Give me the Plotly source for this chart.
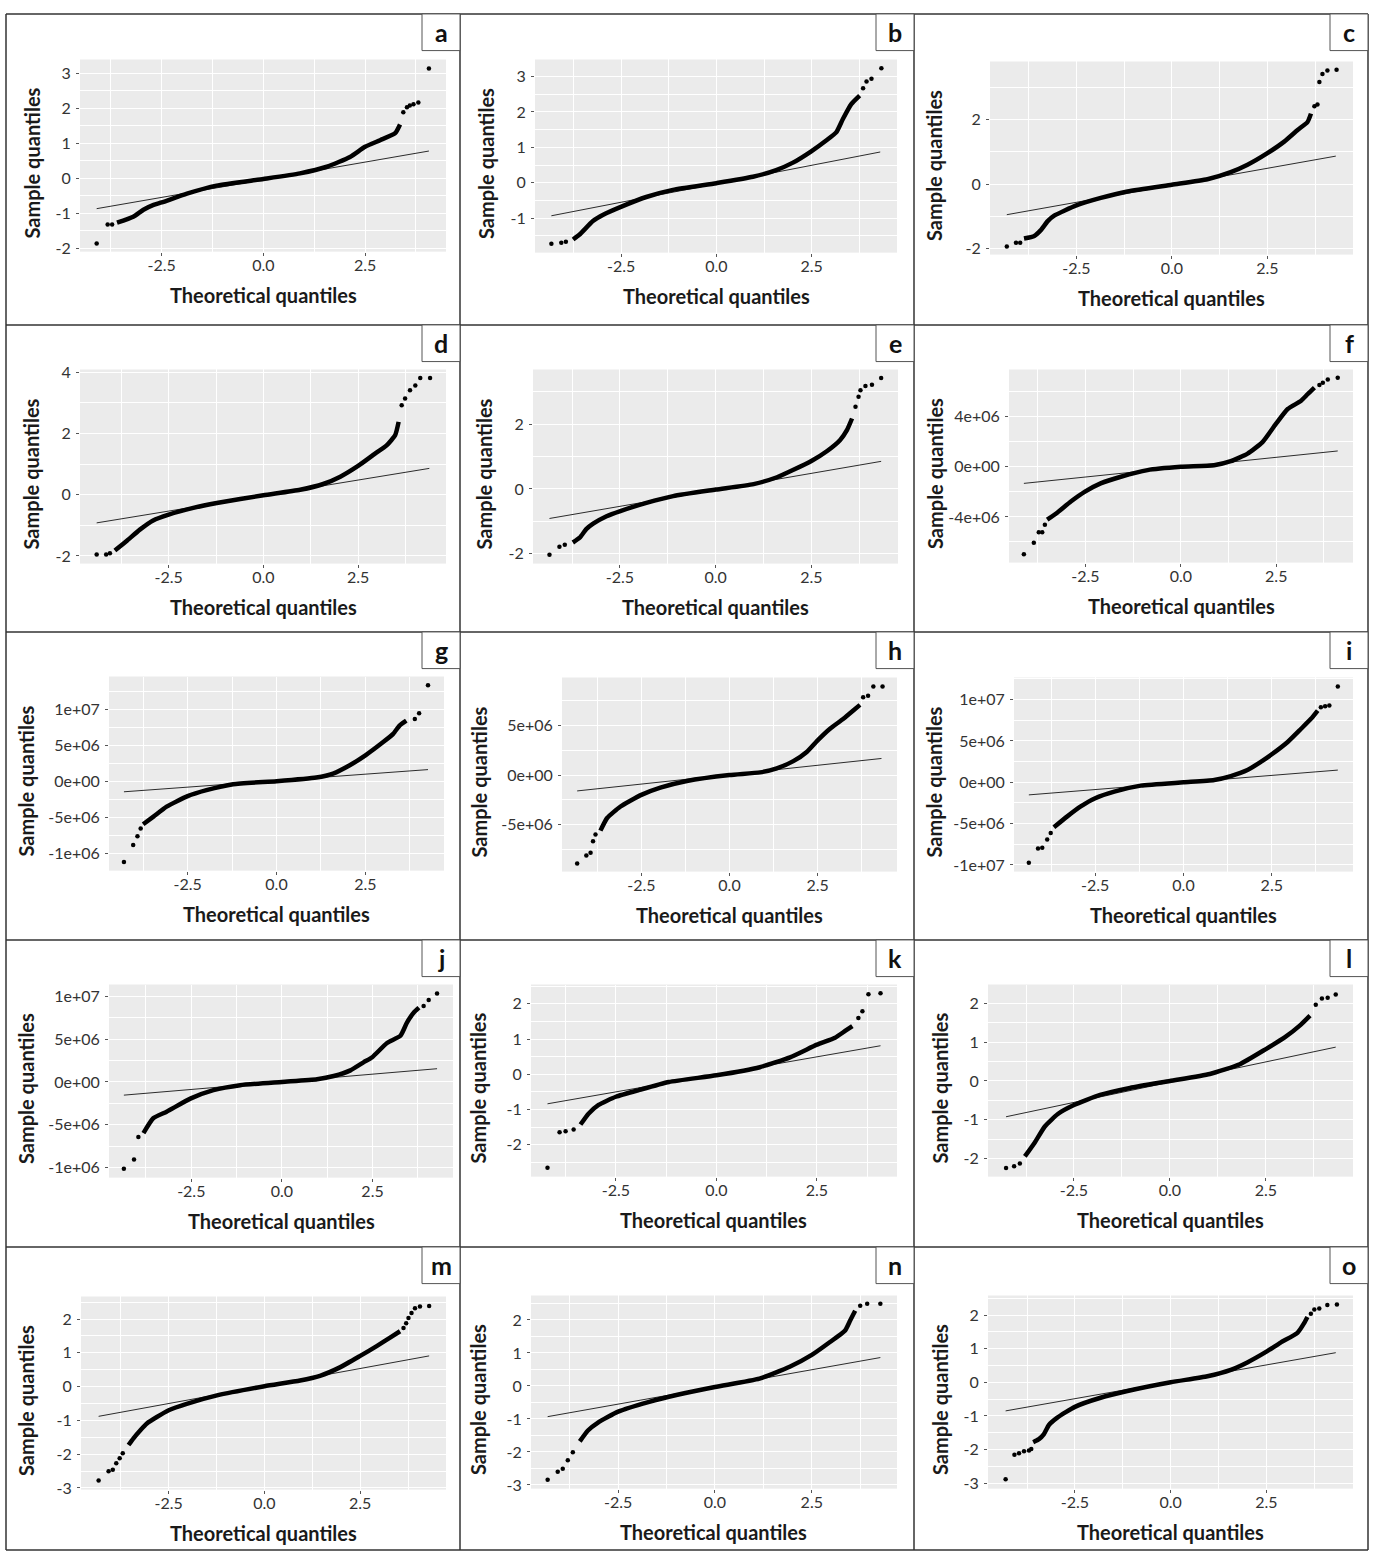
import plotly.graph_objects as go

# ---------------- data ----------------
letters = list("abcdefghijklmno")

a_body_x = [-3.60, -3.20, -2.95, -2.70, -2.50, -1.88, -1.15, 0.00, 0.90, 1.56, 2.13, 2.50, 2.87, 3.24, 3.36]
a_body_y = [-1.27, -1.10, -0.90, -0.76, -0.69, -0.44, -0.21, -0.02, 0.14, 0.33, 0.61, 0.90, 1.09, 1.29, 1.54]
a_tail_x = [-4.10, -3.83, -3.72, 3.44, 3.53, 3.60, 3.69, 3.81, 4.07]
a_tail_y = [-1.87, -1.32, -1.32, 1.89, 2.03, 2.08, 2.12, 2.17, 3.14]
a_line_x = [-4.10, 4.07]
a_line_y = [-0.87, 0.78]

b_body_x = [-3.76, -3.59, -3.24, -2.97, -2.49, -1.84, -1.14, 0.00, 0.96, 1.57, 2.01, 2.49, 2.89, 3.15, 3.32, 3.54, 3.76]
b_body_y = [-1.60, -1.46, -1.08, -0.90, -0.67, -0.40, -0.20, -0.01, 0.17, 0.36, 0.57, 0.89, 1.20, 1.43, 1.80, 2.22, 2.46]
b_tail_x = [-4.33, -4.07, -3.95, 3.85, 3.94, 4.07, 4.33]
b_tail_y = [-1.72, -1.69, -1.66, 2.67, 2.86, 2.94, 3.23]
b_line_x = [-4.33, 4.30]
b_line_y = [-0.93, 0.87]

c_body_x = [-3.87, -3.60, -3.43, -3.25, -3.08, -2.50, -1.86, -1.16, 0.00, 0.93, 1.54, 1.98, 2.50, 2.94, 3.29, 3.55, 3.64]
c_body_y = [-1.69, -1.61, -1.43, -1.15, -0.98, -0.66, -0.43, -0.23, -0.02, 0.15, 0.37, 0.60, 0.96, 1.32, 1.68, 1.93, 2.19]
c_tail_x = [-4.32, -4.08, -3.97, 3.73, 3.81, 3.86, 3.94, 4.07, 4.31]
c_tail_y = [-1.94, -1.82, -1.82, 2.42, 2.47, 3.17, 3.42, 3.53, 3.55]
c_line_x = [-4.32, 4.29]
c_line_y = [-0.95, 0.87]

d_body_x = [-3.92, -3.61, -3.26, -2.91, -2.50, -1.85, -1.23, 0.00, 0.97, 1.58, 2.03, 2.51, 2.90, 3.26, 3.48, 3.57]
d_body_y = [-1.82, -1.51, -1.14, -0.84, -0.65, -0.43, -0.27, -0.02, 0.16, 0.35, 0.59, 0.95, 1.30, 1.62, 1.95, 2.38]
d_tail_x = [-4.40, -4.15, -4.05, 3.65, 3.74, 3.87, 4.01, 4.14, 4.40]
d_tail_y = [-1.95, -1.95, -1.91, 2.92, 3.14, 3.41, 3.57, 3.81, 3.81]
d_line_x = [-4.40, 4.38]
d_line_y = [-0.92, 0.86]

e_body_x = [-3.73, -3.55, -3.38, -3.20, -2.85, -2.49, -1.81, -1.11, 0.00, 0.99, 1.60, 2.03, 2.51, 2.91, 3.25, 3.43, 3.56]
e_body_y = [-1.65, -1.50, -1.24, -1.07, -0.84, -0.68, -0.43, -0.22, -0.02, 0.15, 0.36, 0.59, 0.87, 1.17, 1.51, 1.82, 2.17]
e_tail_x = [-4.34, -4.08, -3.94, 3.65, 3.73, 3.78, 3.91, 4.08, 4.32]
e_tail_y = [-2.03, -1.78, -1.72, 2.53, 2.84, 3.04, 3.17, 3.21, 3.42]
e_line_x = [-4.34, 4.32]
e_line_y = [-0.91, 0.85]

f_body_x = [-3.50, -3.23, -2.88, -2.51, -2.10, -1.57, -0.87, 0.00, 0.87, 1.31, 1.75, 2.14, 2.49, 2.80, 3.15, 3.32, 3.50]
f_body_y = [-4.22e6, -3.64e6, -2.77e6, -1.98e6, -1.32e6, -0.79e6, -0.26e6, 0.0, 0.13e6, 0.45e6, 1.06e6,
            1.98e6, 3.43e6, 4.62e6, 5.28e6, 5.80e6, 6.33e6]
f_tail_x = [-4.11, -3.85, -3.72, -3.63, -3.56, 3.63, 3.72, 3.85, 4.11]
f_tail_y = [-6.99e6, -6.07e6, -5.22e6, -5.22e6, -4.62e6, 6.54e6, 6.73e6, 6.99e6, 7.12e6]
f_line_x = [-4.11, 4.11]
f_line_y = [-1.32e6, 1.27e6]

g_body_x = [-3.75, -3.46, -3.09, -2.50, -1.97, -1.22, 0.00, 1.12, 1.59, 2.06, 2.50, 3.00, 3.28, 3.46, 3.65]
g_body_y = [-5.98e6, -4.92e6, -3.54e6, -2.07e6, -1.24e6, -0.41e6, 0.0, 0.51e6, 1.06e6, 2.21e6, 3.59e6,
            5.43e6, 6.57e6, 7.72e6, 8.41e6]
g_tail_x = [-4.29, -4.03, -3.91, -3.82, 3.89, 4.01, 4.26]
g_tail_y = [-11.22e6, -8.87e6, -7.63e6, -6.57e6, 8.64e6, 9.43e6, 13.33e6]
g_line_x = [-4.29, 4.26]
g_line_y = [-1.47e6, 1.61e6]

h_body_x = [-3.66, -3.47, -3.09, -2.50, -1.96, -1.21, 0.00, 0.87, 1.34, 1.81, 2.19, 2.50, 2.85, 3.23, 3.51, 3.70]
h_body_y = [-5.6e6, -4.33e6, -3.17e6, -2.0e6, -1.27e6, -0.6e6, 0.0, 0.27e6, 0.67e6, 1.4e6, 2.33e6, 3.5e6,
            4.67e6, 5.67e6, 6.5e6, 7.07e6]
h_tail_x = [-4.32, -4.06, -3.94, -3.87, -3.80, 3.79, 3.93, 4.08, 4.34]
h_tail_y = [-8.9e6, -8.1e6, -7.83e6, -6.67e6, -6.0e6, 7.83e6, 8.0e6, 8.93e6, 8.93e6]
h_line_x = [-4.32, 4.31]
h_line_y = [-1.6e6, 1.67e6]

i_body_x = [-3.67, -3.29, -2.91, -2.50, -1.96, -1.21, 0.00, 0.87, 1.34, 1.81, 2.19, 2.49, 2.95, 3.33, 3.61, 3.80]
i_body_y = [-5.44e6, -4.12e6, -2.92e6, -1.92e6, -1.12e6, -0.4e6, 0.0, 0.28e6, 0.76e6, 1.48e6, 2.48e6,
            3.36e6, 4.88e6, 6.48e6, 7.68e6, 8.68e6]
i_tail_x = [-4.38, -4.12, -4.00, -3.86, -3.76, 3.89, 4.01, 4.13, 4.37]
i_tail_y = [-9.72e6, -8.0e6, -7.92e6, -6.92e6, -6.12e6, 9.08e6, 9.2e6, 9.28e6, 11.6e6]
i_line_x = [-4.38, 4.37]
i_line_y = [-1.52e6, 1.48e6]

j_body_x = [-3.82, -3.55, -3.18, -2.51, -1.89, -1.15, 0.00, 0.97, 1.43, 1.89, 2.26, 2.49, 2.90, 3.27, 3.45, 3.64, 3.78]
j_body_y = [-5.96e6, -4.23e6, -3.46e6, -1.92e6, -0.96e6, -0.38e6, 0.0, 0.31e6, 0.69e6, 1.35e6, 2.31e6,
            2.88e6, 4.54e6, 5.38e6, 6.92e6, 8.08e6, 8.65e6]
j_tail_x = [-4.36, -4.08, -3.96, 3.91, 4.05, 4.28]
j_tail_y = [-10.12e6, -9.04e6, -6.42e6, 8.85e6, 9.54e6, 10.31e6]
j_line_x = [-4.36, 4.28]
j_line_y = [-1.54e6, 1.54e6]

k_body_x = [-3.38, -3.18, -2.93, -2.50, -1.93, -1.18, 0.00, 1.08, 1.83, 2.50, 2.95, 3.20, 3.38]
k_body_y = [-1.43, -1.12, -0.87, -0.64, -0.45, -0.22, -0.03, 0.20, 0.48, 0.84, 1.04, 1.23, 1.37]
k_tail_x = [-4.20, -3.90, -3.75, -3.55, 3.53, 3.63, 3.78, 4.08]
k_tail_y = [-2.66, -1.65, -1.62, -1.57, 1.60, 1.79, 2.27, 2.30]
k_line_x = [-4.20, 4.08]
k_line_y = [-0.84, 0.81]

l_body_x = [-3.78, -3.52, -3.26, -2.92, -2.50, -1.82, -1.04, 0.00, 1.04, 1.82, 2.50, 2.99, 3.39, 3.65]
l_body_y = [-1.94, -1.58, -1.17, -0.85, -0.62, -0.36, -0.18, 0.00, 0.18, 0.43, 0.82, 1.12, 1.43, 1.68]
l_tail_x = [-4.27, -4.06, -3.91, 3.80, 3.96, 4.11, 4.32]
l_tail_y = [-2.24, -2.19, -2.12, 1.96, 2.12, 2.14, 2.22]
l_line_x = [-4.27, 4.32]
l_line_y = [-0.92, 0.87]

m_body_x = [-3.55, -3.42, -3.24, -3.07, -2.81, -2.50, -2.03, -1.24, 0.00, 0.93, 1.45, 1.97, 2.50, 2.93, 3.28, 3.54]
m_body_y = [-1.73, -1.53, -1.29, -1.09, -0.90, -0.70, -0.51, -0.26, 0.01, 0.18, 0.32, 0.57, 0.91, 1.20, 1.45, 1.64]
m_tail_x = [-4.33, -4.07, -3.96, -3.87, -3.78, -3.70, 3.63, 3.70, 3.76, 3.84, 3.93, 4.06, 4.30]
m_tail_y = [-2.78, -2.51, -2.46, -2.27, -2.12, -1.97, 1.74, 1.88, 2.03, 2.18, 2.32, 2.37, 2.39]
m_line_x = [-4.33, 4.30]
m_line_y = [-0.88, 0.91]

n_body_x = [-3.49, -3.28, -3.02, -2.50, -1.72, -0.94, 0.00, 1.15, 1.93, 2.50, 2.97, 3.36, 3.49, 3.62]
n_body_y = [-1.68, -1.35, -1.11, -0.78, -0.49, -0.26, -0.03, 0.22, 0.58, 0.94, 1.33, 1.68, 1.98, 2.28]
n_tail_x = [-4.32, -4.06, -3.93, -3.80, -3.67, 3.75, 3.93, 4.27]
n_tail_y = [-2.84, -2.60, -2.51, -2.25, -2.01, 2.43, 2.49, 2.49]
n_line_x = [-4.32, 4.27]
n_line_y = [-0.93, 0.86]

o_body_x = [-3.59, -3.44, -3.31, -3.18, -2.96, -2.50, -1.83, -1.13, 0.00, 0.96, 1.57, 2.00, 2.50, 2.87, 3.31, 3.48, 3.57]
o_body_y = [-1.78, -1.69, -1.54, -1.27, -1.05, -0.73, -0.46, -0.26, 0.00, 0.18, 0.37, 0.59, 0.91, 1.18, 1.47, 1.75, 1.94]
o_tail_x = [-4.31, -4.08, -3.96, -3.83, -3.70, -3.64, 3.66, 3.75, 3.88, 4.09, 4.34]
o_tail_y = [-2.88, -2.15, -2.11, -2.05, -2.03, -1.98, 2.04, 2.16, 2.19, 2.30, 2.31]
o_line_x = [-4.31, 4.31]
o_line_y = [-0.85, 0.88]

x_tickvals = [-2.5, 0.0, 2.5]
x_ticktext = ["-2.5", "0.0", "2.5"]

yt_unit = [-3, -2, -1, 0, 1, 2, 3, 4]
yt_unit_text = ["-3", "-2", "-1", "0", "1", "2", "3", "4"]
yt_even = [-2, 0, 2, 4]
yt_even_text = ["-2", "0", "2", "4"]
yt_f = [-4e6, 0, 4e6]
yt_f_text = ["-4e+06", "0e+00", "4e+06"]
yt_big = [-1e7, -5e6, 0, 5e6, 1e7]
yt_big_text_gj = ["-1e+06", "-5e+06", "0e+00", "5e+06", "1e+07"]
yt_big_text_i = ["-1e+07", "-5e+06", "0e+00", "5e+06", "1e+07"]

series = {
    "a": (a_body_x, a_body_y, a_tail_x, a_tail_y, a_line_x, a_line_y),
    "b": (b_body_x, b_body_y, b_tail_x, b_tail_y, b_line_x, b_line_y),
    "c": (c_body_x, c_body_y, c_tail_x, c_tail_y, c_line_x, c_line_y),
    "d": (d_body_x, d_body_y, d_tail_x, d_tail_y, d_line_x, d_line_y),
    "e": (e_body_x, e_body_y, e_tail_x, e_tail_y, e_line_x, e_line_y),
    "f": (f_body_x, f_body_y, f_tail_x, f_tail_y, f_line_x, f_line_y),
    "g": (g_body_x, g_body_y, g_tail_x, g_tail_y, g_line_x, g_line_y),
    "h": (h_body_x, h_body_y, h_tail_x, h_tail_y, h_line_x, h_line_y),
    "i": (i_body_x, i_body_y, i_tail_x, i_tail_y, i_line_x, i_line_y),
    "j": (j_body_x, j_body_y, j_tail_x, j_tail_y, j_line_x, j_line_y),
    "k": (k_body_x, k_body_y, k_tail_x, k_tail_y, k_line_x, k_line_y),
    "l": (l_body_x, l_body_y, l_tail_x, l_tail_y, l_line_x, l_line_y),
    "m": (m_body_x, m_body_y, m_tail_x, m_tail_y, m_line_x, m_line_y),
    "n": (n_body_x, n_body_y, n_tail_x, n_tail_y, n_line_x, n_line_y),
    "o": (o_body_x, o_body_y, o_tail_x, o_tail_y, o_line_x, o_line_y),
}

# ---------------- layout specification (pixels) ----------------
W, H = 1375, 1559
COLS = [6, 460, 914, 1368]
ROWS = [6, 320, 630, 941, 1251, 1557]

specs = {
    "a": dict(box=(80, 446, 52, 246), xr=(-4.51, 4.49), yr=(-2.10, 3.40), yt=yt_unit, ytt=yt_unit_text, ym=0.5, tx=32),
    "b": dict(box=(535, 897, 52, 247), xr=(-4.76, 4.74), yr=(-1.97, 3.48), yt=yt_unit, ytt=yt_unit_text, ym=0.5, tx=486),
    "c": dict(box=(990, 1353, 54, 249), xr=(-4.76, 4.74), yr=(-2.19, 3.81), yt=yt_even, ytt=yt_even_text, ym=1, tx=934),
    "d": dict(box=(80, 446, 365, 561), xr=(-4.84, 4.82), yr=(-2.25, 4.09), yt=yt_even, ytt=yt_even_text, ym=1, tx=31),
    "e": dict(box=(533, 898, 365, 561), xr=(-4.77, 4.76), yr=(-2.30, 3.68), yt=yt_even, ytt=yt_even_text, ym=1, tx=484),
    "f": dict(box=(1009, 1353, 365, 560), xr=(-4.50, 4.51), yr=(-7.65e6, 7.78e6), yt=yt_f, ytt=yt_f_text, ym=2e6, tx=935),
    "g": dict(box=(109, 444, 675, 871), xr=(-4.71, 4.71), yr=(-12.41e6, 14.53e6), yt=yt_big, ytt=yt_big_text_gj, ym=2.5e6, tx=26),
    "h": dict(box=(562, 897, 676, 872), xr=(-4.75, 4.75), yr=(-9.73e6, 9.83e6), yt=yt_big, ytt=yt_big_text_i, ym=2.5e6, tx=479),
    "i": dict(box=(1014, 1353, 676, 872), xr=(-4.80, 4.80), yr=(-10.8e6, 12.68e6), yt=yt_big, ytt=yt_big_text_i, ym=2.5e6, tx=934),
    "j": dict(box=(109, 453, 986, 1181), xr=(-4.77, 4.72), yr=(-11.15e6, 11.35e6), yt=yt_big, ytt=yt_big_text_gj, ym=2.5e6, tx=26),
    "k": dict(box=(531, 897, 986, 1180), xr=(-4.61, 4.49), yr=(-2.91, 2.55), yt=yt_unit, ytt=yt_unit_text, ym=0.5, tx=478),
    "l": dict(box=(988, 1353, 986, 1180), xr=(-4.74, 4.77), yr=(-2.46, 2.48), yt=yt_unit, ytt=yt_unit_text, ym=0.5, tx=940),
    "m": dict(box=(81, 446, 1301, 1496), xr=(-4.79, 4.74), yr=(-3.05, 2.67), yt=yt_unit, ytt=yt_unit_text, ym=0.5, tx=26),
    "n": dict(box=(531, 897, 1300, 1495), xr=(-4.75, 4.70), yr=(-3.11, 2.74), yt=yt_unit, ytt=yt_unit_text, ym=0.5, tx=478),
    "o": dict(box=(988, 1353, 1300, 1495), xr=(-4.77, 4.76), yr=(-3.16, 2.58), yt=yt_unit, ytt=yt_unit_text, ym=0.5, tx=940),
}


def fx(px):
    return px / W


def fy(py):
    return 1 - py / H


FONT = "Lato, Open Sans, sans-serif"
TICK_FONT = dict(family=FONT, size=16, color="#333333")

fig = go.Figure()
layout = {}
annotations = []
shapes = []

for idx, letter in enumerate(letters):
    n = idx + 1
    sx = "x" if n == 1 else f"x{n}"
    sy = "y" if n == 1 else f"y{n}"
    kx = "xaxis" if n == 1 else f"xaxis{n}"
    ky = "yaxis" if n == 1 else f"yaxis{n}"
    sp = specs[letter]
    bx, by, tx_, ty_, lx, ly = series[letter]
    x0, x1, y0, y1 = sp["box"]

    fig.add_trace(go.Scatter(x=lx, y=ly, mode="lines", line=dict(color="#2b2b2b", width=1),
                             xaxis=sx, yaxis=sy, hoverinfo="skip"))
    fig.add_trace(go.Scatter(x=bx, y=by, mode="lines",
                             line=dict(color="black", width=4.5, shape="spline", smoothing=0.5),
                             xaxis=sx, yaxis=sy))
    fig.add_trace(go.Scatter(x=tx_, y=ty_, mode="markers", marker=dict(color="black", size=4.5),
                             xaxis=sx, yaxis=sy))

    layout[kx] = dict(
        domain=[fx(x0), fx(x1)], range=list(sp["xr"]), anchor=sy,
        tickmode="array", tickvals=x_tickvals, ticktext=x_ticktext,
        showgrid=True, gridcolor="white", gridwidth=1.1, zeroline=False, showline=False,
        ticks="outside", ticklen=3, tickcolor="#555", tickwidth=1, tickfont=TICK_FONT,
        ticklabelstandoff=-4,
        minor=dict(showgrid=True, gridcolor="white", gridwidth=0.5, tick0=-1.25, dtick=2.5, ticks=""),
        fixedrange=True,
    )
    layout[ky] = dict(
        domain=[fy(y1), fy(y0)], range=list(sp["yr"]), anchor=sx,
        tickmode="array", tickvals=sp["yt"], ticktext=sp["ytt"],
        showgrid=True, gridcolor="white", gridwidth=1.1, zeroline=False, showline=False,
        ticks="outside", ticklen=3, tickcolor="#555", tickwidth=1, tickfont=TICK_FONT,
        ticklabelstandoff=2,
        minor=dict(showgrid=True, gridcolor="white", gridwidth=0.5, tick0=sp["ym"], dtick=2 * sp["ym"], ticks=""),
        fixedrange=True,
    )

    # axis titles
    annotations.append(dict(
        text="Theoretical quantiles", xref="paper", yref="paper",
        x=fx((x0 + x1) / 2), y=fy(y1 + 44), xanchor="center", yanchor="middle",
        showarrow=False, font=dict(family=FONT, size=20, color="#1a1a1a", weight="bold")))
    annotations.append(dict(
        text="Sample quantiles", xref="paper", yref="paper", textangle=-90,
        x=fx(sp["tx"]), y=fy((y0 + y1) / 2 + 8), xanchor="center", yanchor="middle",
        showarrow=False, font=dict(family=FONT, size=20, color="#1a1a1a", weight="bold")))

    # panel label box
    r, c = idx // 3, idx % 3
    bx1 = COLS[c + 1]
    bx0 = bx1 - 38
    by0 = ROWS[r]
    by1 = by0 + 37
    shapes.append(dict(type="rect", xref="paper", yref="paper",
                       x0=fx(bx0), x1=fx(bx1), y0=fy(by1), y1=fy(by0),
                       line=dict(color="#555555", width=1), fillcolor="white", layer="above"))
    annotations.append(dict(
        text=letter, xref="paper", yref="paper", x=fx((bx0 + bx1) / 2), y=fy((by0 + by1) / 2),
        xanchor="center", yanchor="middle", showarrow=False,
        font=dict(family=FONT, size=25, color="#111111", weight="bold")))

# cell borders
for cx in COLS:
    shapes.append(dict(type="line", xref="paper", yref="paper", x0=fx(cx), x1=fx(cx),
                       y0=fy(ROWS[0]), y1=fy(ROWS[-1]), line=dict(color="#333333", width=1.5), layer="below"))
for ry in ROWS:
    shapes.append(dict(type="line", xref="paper", yref="paper", x0=fx(COLS[0]), x1=fx(COLS[-1]),
                       y0=fy(ry), y1=fy(ry), line=dict(color="#333333", width=1.5), layer="below"))

fig.update_layout(
    width=W, height=H, margin=dict(l=0, r=0, t=0, b=0),
    paper_bgcolor="white", plot_bgcolor="#EBEBEB",
    showlegend=False, annotations=annotations, shapes=shapes,
    font=dict(family=FONT),
    **layout,
)

fig.write_html("out.html")
